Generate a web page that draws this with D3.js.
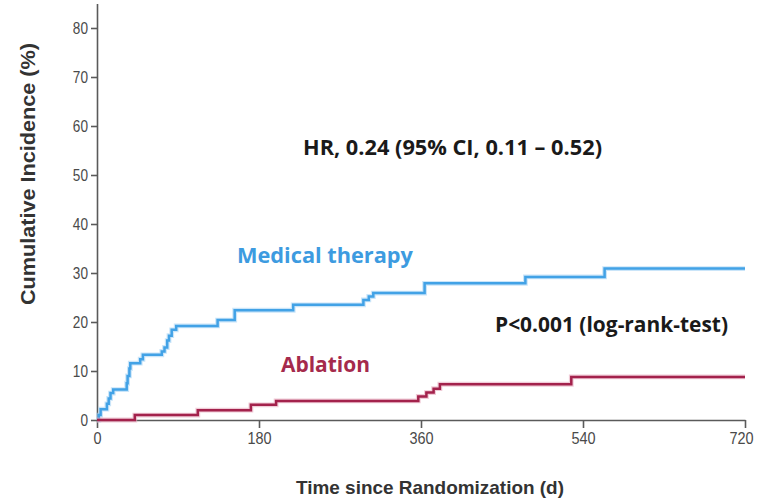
<!DOCTYPE html>
<html><head><meta charset="utf-8">
<script src="https://cdn.jsdelivr.net/npm/d3@7"></script>
<style>
html,body{margin:0;padding:0;background:#fff;}
svg{display:block;}
</style></head>
<body>
<svg id="chart" width="759" height="500"></svg>
<script>
// ---- data ----
const medDays = [0,2,4,11,13,15,18,33,34,36,37,48,51,72,75,78,80,83,88,134,153,218,296,302,307,364,476,564,720];
const medPct  = [0,1.0,2.2,3.3,4.4,5.5,6.2,7.5,9.0,10.5,11.6,12.4,13.3,14.0,14.8,16.2,17.2,18.4,19.2,20.4,22.4,23.5,24.5,25.2,25.9,27.9,29.2,30.9,30.9];
const ablDays = [0,42,112,171,199,357,366,374,381,527,720];
const ablPct  = [0,1.0,2.0,3.1,3.9,4.8,5.6,6.4,7.3,8.8,8.8];
const xTicks = [0,180,360,540,720];
const yTicks = [0,10,20,30,40,50,60,70,80];
const seriesNames = ["Medical therapy","Ablation"];
const hrText = "HR, 0.24 (95% CI, 0.11 \u2013 0.52)";
const pText = "P<0.001 (log-rank-test)";
const xTitle = "Time since Randomization (d)";
const yTitle = "Cumulative Incidence (%)";

const svg = d3.select("#chart");
const x = d3.scaleLinear().domain([0,720]).range([97,745]);
const y = d3.scaleLinear().domain([0,85]).range([420,3.5]);

const axisColor = "#5a5a5a";
const tickFont = "'Liberation Sans',Arial,sans-serif";

function condense(sel, f){
  sel.each(function(){
    const w = this.getComputedTextLength();
    d3.select(this).attr("textLength", w*f).attr("lengthAdjust","spacingAndGlyphs");
  });
}

// x axis
const xAxis = d3.axisBottom(x).tickValues(xTicks).tickSize(8).tickSizeOuter(0).tickPadding(4);
const gx = svg.append("g").attr("transform",`translate(0,${y(0)})`).call(xAxis);
gx.select(".domain").attr("stroke",axisColor).attr("stroke-width",1.6);
gx.selectAll(".tick line").attr("stroke",axisColor).attr("stroke-width",1.6);
gx.selectAll(".tick text").attr("fill","#4a4a4a").style("font-family",tickFont).style("font-size","17px");
condense(gx.selectAll(".tick text"), 0.85);
gx.selectAll(".tick text").filter(d=>d===720).attr("dx",-4);

// y axis
const yAxis = d3.axisLeft(y).tickValues(yTicks).tickSize(6).tickSizeOuter(0).tickPadding(3);
const gy = svg.append("g").attr("transform",`translate(${x(0)},0)`).call(yAxis);
gy.select(".domain").attr("stroke",axisColor).attr("stroke-width",1.6);
gy.selectAll(".tick line").attr("stroke",axisColor).attr("stroke-width",1.6);
gy.selectAll(".tick text").attr("fill","#4a4a4a").style("font-family",tickFont).style("font-size","17px");
condense(gy.selectAll(".tick text"), 0.8);

// lines
const line = d3.line().x(d=>x(d[0])).y(d=>y(d[1])).curve(d3.curveStepAfter);
const med = medDays.map((d,i)=>[d,medPct[i]]);
const abl = ablDays.map((d,i)=>[d,ablPct[i]]);

const series = [
  {data: med, core:"#42a2e6", halo:"#a6d3f5"},
  {data: abl, core:"#a3224c", halo:"#e6a9bd"}
];
series.forEach(s=>{
  svg.append("path").datum(s.data).attr("d",line).attr("fill","none")
    .attr("stroke",s.halo).attr("stroke-width",4.8).attr("stroke-opacity",0.6);
  svg.append("path").datum(s.data).attr("d",line).attr("fill","none")
    .attr("stroke",s.core).attr("stroke-width",2.5);
});

// annotations
const annFont = "'Open Sans',Lato,sans-serif";
function ann(txt, cx, by, size, len, color){
  svg.append("text").attr("x",cx).attr("y",by).attr("text-anchor","middle")
    .style("font-family",annFont).style("font-weight",700).style("font-size",size+"px")
    .attr("textLength",len).attr("lengthAdjust","spacingAndGlyphs")
    .attr("fill",color).text(txt);
}
ann(hrText, 452.5, 155, 20.5, 299, "#1a1a1a");
ann(seriesNames[0], 325, 263, 22, 176, "#3d9be0");
ann(pText, 611.5, 332, 20.5, 233, "#1a1a1a");
ann(seriesNames[1], 325.5, 372, 22, 89, "#a52a4c");

// axis titles
const titleFont = "'Liberation Sans',Arial,sans-serif";
svg.append("text").attr("x",296).attr("y",494).attr("text-anchor","start")
  .style("font-family",titleFont).style("font-weight",700).style("font-size","19px")
  .attr("textLength",268).attr("lengthAdjust","spacingAndGlyphs")
  .attr("fill","#333").text(xTitle);
svg.append("text").attr("transform","translate(35,174) rotate(-90)").attr("text-anchor","middle")
  .style("font-family",titleFont).style("font-weight",700).style("font-size","21px")
  .attr("textLength",262).attr("lengthAdjust","spacingAndGlyphs")
  .attr("fill","#333").text(yTitle);
</script>
</body></html>
